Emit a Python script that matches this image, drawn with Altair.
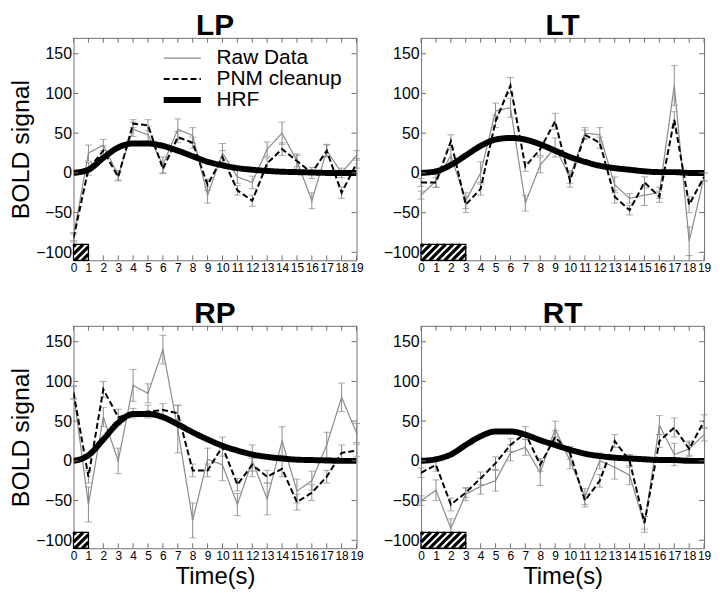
import altair as alt
import pandas as pd

time = list(range(20))
panels = ["LP", "LT", "RP", "RT"]
series_names = ["Raw Data", "PNM cleanup", "HRF"]
series_colors = ["#8a8a8a", "black", "black"]
series_dash = [[1, 0], [6, 3], [1, 0]]
series_width = [1.2, 2, 6]
stim_end = {"LP": 1, "LT": 3, "RP": 1, "RT": 3}

raw = {
    "LP": [-80, 25, 35, -3, 55, 48, 10, 55, 47, -28, 25, -5, -12, 30, 50, 15, -35, 28, 0, 22],
    "LT": [-28, -10, 22, -35, 0, 78, 82, -38, 10, 32, -5, 50, 48, -15, -32, -28, -25, 110, -86, -5],
    "RP": [86, -55, 55, 0, 95, 85, 140, 40, -75, 2, -5, -55, 0, -48, 25, -38, -25, 20, 80, 35],
    "RT": [-50, -37, -85, -42, -32, -25, 10, 17, -15, 40, 0, -45, 0, -8, -18, -80, 45, 8, 15, 33],
}
pnm = {
    "LP": [-82, 5, 28, -5, 62, 60, 5, 45, 38, -15, 20, -22, -35, 12, 30, 15, 0, 28, -25, 12],
    "LT": [-12, -12, 40, -40, -20, 65, 110, 8, 30, 65, -10, 48, 38, -30, -47, -12, -30, 67, -40, -5],
    "RP": [86, -20, 90, 55, 60, 62, 64, 60, -12, -12, 18, -30, -5, -20, -10, -52, -40, -20, 10, 13],
    "RT": [-15, -5, -55, -40, -22, -3, 20, 35, -5, 30, 10, -50, -25, 25, 0, -78, 25, 42, 15, 50],
}
hrf = {
    "LP": [0, 4, 19, 32, 37, 37, 34, 28, 21, 14, 9.5, 6, 4, 2.5, 1.5, 1, 0.5, 0, 0, 0],
    "LT": [0, 2, 10, 22, 34, 42, 44, 42, 36, 28, 20, 14, 9, 6, 4, 2, 1, 1, 0, 0],
    "RP": [0, 7, 27, 48, 59, 59, 55, 46, 36, 27, 19, 13, 8, 5, 3, 1.5, 1, 0.5, 0, 0],
    "RT": [0, 2, 8, 20, 31, 37, 37, 33, 26, 20, 14, 9, 6, 4, 3, 2, 1, 1, 0, 0],
}
raw_err = {
    "LP": [5, 10, 7, 6, 9, 11, 10, 13, 10, 10, 12, 8, 8, 9, 14, 9, 10, 8, 6, 6],
    "LT": [5, 8, 8, 10, 14, 10, 12, 10, 10, 12, 8, 7, 9, 10, 6, 13, 7, 25, 18, 5],
    "RP": [8, 22, 12, 16, 20, 12, 18, 30, 22, 14, 20, 14, 20, 20, 18, 15, 12, 16, 18, 12],
    "RT": [6, 13, 12, 8, 10, 13, 10, 10, 16, 10, 10, 10, 10, 15, 12, 10, 12, 14, 10, 8],
}
pnm_err = {
    "LP": [5, 8, 6, 5, 5, 7, 6, 7, 7, 7, 8, 6, 7, 7, 8, 7, 7, 7, 7, 6],
    "LT": [5, 6, 8, 10, 8, 8, 10, 6, 8, 10, 8, 6, 7, 8, 6, 7, 7, 10, 10, 5],
    "RP": [8, 8, 10, 10, 6, 8, 8, 10, 8, 8, 12, 8, 8, 8, 10, 10, 10, 8, 10, 8],
    "RT": [6, 8, 8, 6, 8, 8, 8, 8, 8, 8, 8, 8, 8, 8, 8, 8, 8, 12, 8, 8],
}
y_ticks = [-100, -50, 0, 50, 100, 150]

W, H = 285, 224
YMIN, YMAX = -110, 170
BOX_TOP = -90
FONT = "Liberation Sans"
GRAY = "#8a8a8a"
FRAME = "#707070"

width_expr = " : ".join(
    f"datum.value === '{n}' ? {w}" for n, w in zip(series_names[1:], series_width[1:])
) + f" : {series_width[0]}"


def panel(name, left, bottom):
    rows = []
    for s, vals in zip(series_names, [raw[name], pnm[name], hrf[name]]):
        w = series_width[series_names.index(s)]
        rows += [{"t": t, "v": v, "series": s, "w": w} for t, v in zip(time, vals)]
    lines = pd.DataFrame(rows)
    errs = pd.DataFrame(
        [{"t": t, "lo": v - e, "hi": v + e} for t, v, e in zip(time, raw[name], raw_err[name])]
        + [{"t": t, "lo": v - e, "hi": v + e} for t, v, e in zip(time, pnm[name], pnm_err[name])]
    )
    caps = pd.concat([errs[["t", "lo"]].rename(columns={"lo": "c"}),
                      errs[["t", "hi"]].rename(columns={"hi": "c"})])

    xkw = dict(values=time, labelFontSize=12, format="d", domain=False, ticks=False,
               grid=False, labelPadding=2, labelOverlap=False, labelColor="black",
               labelFont=FONT, labelFlush=False)
    if bottom:
        xkw.update(title="Time(s)", titleFontSize=24, titleFontWeight="normal",
                   titlePadding=4, titleFont=FONT, titleColor="black")
    else:
        xkw.update(title=None)
    ykw = dict(values=y_ticks, labelFontSize=16, domain=False, ticks=False, grid=False,
               labelPadding=2, labelColor="black", labelFont=FONT, labelOverlap=False)
    if left:
        ykw.update(title="BOLD signal", titleFontSize=25, titleFontWeight="normal",
                   titlePadding=2, titleFont=FONT, titleColor="black")
    else:
        ykw.update(title=None)

    ax_x = alt.Axis(**xkw)
    ax_y = alt.Axis(**ykw)
    xs = alt.Scale(domain=[0, 19], nice=False, zero=False)
    ys = alt.Scale(domain=[YMIN, YMAX], nice=False, zero=False)

    def X(f):
        return alt.X(f, scale=xs, axis=ax_x)

    def Y(f):
        return alt.Y(f, scale=ys, axis=ax_y)

    if name == "LP":
        leg = alt.Legend(orient="none", legendX=99, legendY=10, title=None,
                         symbolType="stroke", symbolSize=1400, labelFontSize=21,
                         labelFont=FONT, labelColor="black", rowPadding=-16,
                         labelOffset=24, labelLimit=0, padding=0,
                         symbolStrokeWidth=alt.ExprRef(expr=width_expr))
    else:
        leg = None
    color = alt.Color("series:N", scale=alt.Scale(domain=series_names, range=series_colors), legend=leg)
    dash = alt.StrokeDash("series:N", scale=alt.Scale(domain=series_names, range=series_dash), legend=leg)
    sw = alt.StrokeWidth("w:Q", scale=None, legend=None)

    layers = []
    layers.append(alt.Chart(errs).mark_rule(color=GRAY, strokeWidth=1).encode(
        x=X("t:Q"), y=Y("lo:Q"), y2="hi:Q"))
    layers.append(alt.Chart(caps).mark_tick(orient="horizontal", size=7, thickness=1, color=GRAY).encode(
        x=X("t:Q"), y=Y("c:Q")))
    base = alt.Chart(lines)
    for s in series_names:
        mk = dict(clip=True)
        if s == "HRF":
            mk["interpolate"] = "monotone"
        layers.append(base.transform_filter(alt.datum.series == s).mark_line(**mk).encode(
            x=X("t:Q"), y=Y("v:Q"), color=color, strokeDash=dash, strokeWidth=sw))

    # inner ticks (MATLAB-style box)
    yt = pd.DataFrame({"v": y_ticks})
    xt = pd.DataFrame({"t": time})
    layers.append(alt.Chart(yt).mark_rule(color=FRAME, strokeWidth=1).encode(
        y=Y("v:Q"), x=alt.value(0), x2=alt.value(5)))
    layers.append(alt.Chart(yt).mark_rule(color=FRAME, strokeWidth=1).encode(
        y=Y("v:Q"), x=alt.value(W - 5), x2=alt.value(W)))
    layers.append(alt.Chart(xt).mark_rule(color=FRAME, strokeWidth=1).encode(
        x=X("t:Q"), y=alt.value(H), y2=alt.value(H - 5)))
    layers.append(alt.Chart(xt).mark_rule(color=FRAME, strokeWidth=1).encode(
        x=X("t:Q"), y=alt.value(0), y2=alt.value(5)))

    # stimulus hatched box
    end = stim_end[name]
    box = pd.DataFrame({"x0": [0], "x1": [end], "y0": [YMIN], "y1": [BOX_TOP]})
    pxt = W / 19.0
    pxv = H / float(YMAX - YMIN)
    dt = (BOX_TOP - YMIN) * pxv / pxt
    period = 0.5
    srows = []
    s = -dt + period * 0.3
    while s < end:
        x0, y0, x1, y1 = s, YMIN, s + dt, BOX_TOP
        if x0 < 0:
            y0 = YMIN + (0 - s) / dt * (BOX_TOP - YMIN)
            x0 = 0
        if x1 > end:
            y1 = YMIN + (end - s) / dt * (BOX_TOP - YMIN)
            x1 = end
        if x1 - x0 > 0.05:
            srows.append({"x0": x0, "y0": y0, "x1": x1, "y1": y1})
        s += period
    stripes = pd.DataFrame(srows)
    layers.append(alt.Chart(box).mark_rect(fill="white", strokeWidth=0).encode(
        x=X("x0:Q"), x2="x1:Q", y=Y("y0:Q"), y2="y1:Q"))
    layers.append(alt.Chart(stripes).mark_rule(color="black", strokeWidth=3.2).encode(
        x=X("x0:Q"), x2="x1:Q", y=Y("y0:Q"), y2="y1:Q"))
    layers.append(alt.Chart(box).mark_rect(fillOpacity=0, stroke="black", strokeWidth=1.3).encode(
        x=X("x0:Q"), x2="x1:Q", y=Y("y0:Q"), y2="y1:Q"))

    # panel title as a text mark above the plot area
    ttl = pd.DataFrame({"name": [name]})
    layers.append(alt.Chart(ttl).mark_text(
        fontSize=30, fontWeight="bold", font=FONT, baseline="alphabetic", align="center",
        color="black").encode(text="name:N", x=alt.value(W / 2), y=alt.value(-3)))

    return alt.layer(*layers).properties(width=W, height=H)


chart = alt.concat(
    panel("LP", True, False), panel("LT", False, False),
    panel("RP", True, True), panel("RT", False, True),
    columns=2, spacing={"row": 66, "column": 65}, bounds="flush",
).properties(padding=0).configure_view(stroke=FRAME, strokeWidth=1)

chart.save("out.html", embed_options={"renderer": "svg", "actions": False})
